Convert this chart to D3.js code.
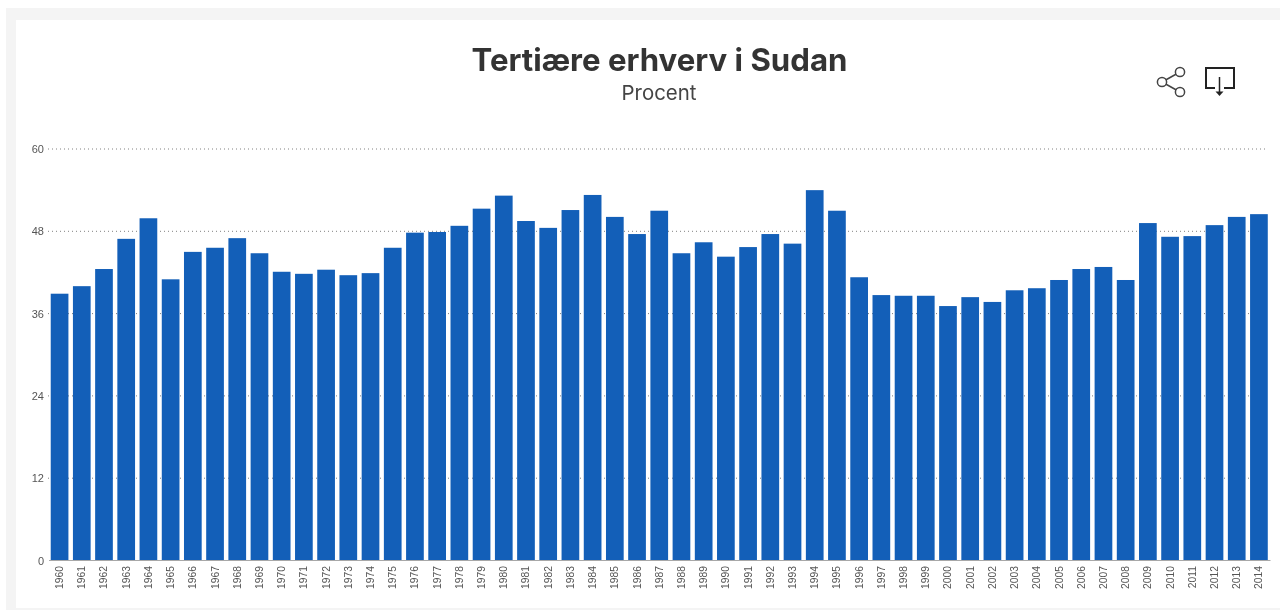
<!DOCTYPE html>
<html><head><meta charset="utf-8">
<script src="https://cdn.jsdelivr.net/npm/d3@7"></script>
<style>
html,body{margin:0;padding:0;background:#fff;overflow:hidden}
svg{display:block;filter:blur(0.4px)}
text{font-family:Inter,"Liberation Sans",sans-serif}
.tick text{font-family:"Liberation Sans",Arial,sans-serif}
</style></head><body>
<svg id="c" width="1280" height="610"></svg>
<script>
const years = d3.range(1960, 2015).map(String);
const values = [38.9,40.0,42.5,46.9,49.9,41.0,45.0,45.6,47.0,44.8,42.1,41.8,42.4,41.6,41.9,45.6,47.8,47.9,48.8,51.3,53.2,49.5,48.5,51.1,53.3,50.1,47.6,51.0,44.8,46.4,44.3,45.7,47.6,46.2,54.0,51.0,41.3,38.7,38.6,38.6,37.1,38.4,37.7,39.4,39.7,40.9,42.5,42.8,40.9,49.2,47.2,47.3,48.9,50.1,50.5];
const yTicks = [0,12,24,36,48,60];
const titleText = "Tertiære erhverv i Sudan";
const subtitleText = "Procent";

const svg = d3.select("#c");
svg.append("rect").attr("x",6).attr("y",8).attr("width",1274).attr("height",602).attr("fill","#f4f4f4");
svg.append("rect").attr("x",16).attr("y",20).attr("width",1264).attr("height",588).attr("fill","#fff");

const x = d3.scaleBand().domain(years).range([48.5,1270]).paddingInner(0.203).paddingOuter(0.1);
const y = d3.scaleLinear().domain([0,60]).range([560.5,149]);

const grid = svg.append("g");
grid.selectAll("line").data(yTicks.slice(1)).join("line")
  .attr("x1",48).attr("x2",1268).attr("y1",d=>y(d)).attr("y2",d=>y(d))
  .attr("stroke","#808080").attr("stroke-width",1).attr("stroke-dasharray","1 3");

svg.append("g").selectAll("rect").data(values).join("rect")
  .attr("x",(d,i)=>x(years[i])).attr("width",x.bandwidth())
  .attr("y",d=>y(d)).attr("height",d=>y(0)-y(d)).attr("fill","#135fb8");

const axisY = d3.axisLeft(y).tickValues(yTicks).tickSize(0).tickPadding(0);
const gy = svg.append("g").attr("transform","translate(44,0)").call(axisY);
gy.select(".domain").remove();
gy.selectAll("text").attr("font-size",11).attr("fill","#555");

const axisX = d3.axisBottom(x).tickSize(0).tickPadding(0);
const gx = svg.append("g").attr("transform","translate(0,560)").call(axisX);
gx.select(".domain").attr("stroke","#a8a8a8");
gx.selectAll("text").attr("font-size",10.3).attr("fill","#555")
  .attr("text-anchor","end").attr("dy",null)
  .attr("transform","translate(0,6) rotate(-90)")
  .attr("x",0).attr("y",0).attr("dominant-baseline","central");

svg.append("text").attr("x",659.5).attr("y",71).attr("text-anchor","middle")
  .attr("font-size",31.2).attr("font-weight",700).attr("fill","#333").text(titleText);
svg.append("text").attr("x",659).attr("y",99.5).attr("text-anchor","middle")
  .attr("font-size",20.4).attr("fill","#444").text(subtitleText);

// share icon
const share = svg.append("g").attr("fill","none").attr("stroke","#444").attr("stroke-width",1.5);
[[[1162,82],[1180,72]],[[1162,82],[1180,92]]].forEach(s=>share.append("line")
  .attr("x1",s[0][0]).attr("y1",s[0][1]).attr("x2",s[1][0]).attr("y2",s[1][1]));
[[1162,82],[1180,72],[1180,92]].forEach(c=>share.append("circle")
  .attr("cx",c[0]).attr("cy",c[1]).attr("r",4.6).attr("fill","#fff"));
// download icon
const dl = svg.append("g").attr("fill","none").attr("stroke","#222").attr("stroke-width",2);
dl.append("path").attr("d","M1215 88H1206V68H1234V88H1224");
dl.append("path").attr("d","M1219.5 77V93").attr("stroke-width",1.5);
dl.append("path").attr("d","M1215.5 91.5L1219.5 96L1223.5 91.5Z").attr("fill","#222").attr("stroke","none");
</script></body></html>
